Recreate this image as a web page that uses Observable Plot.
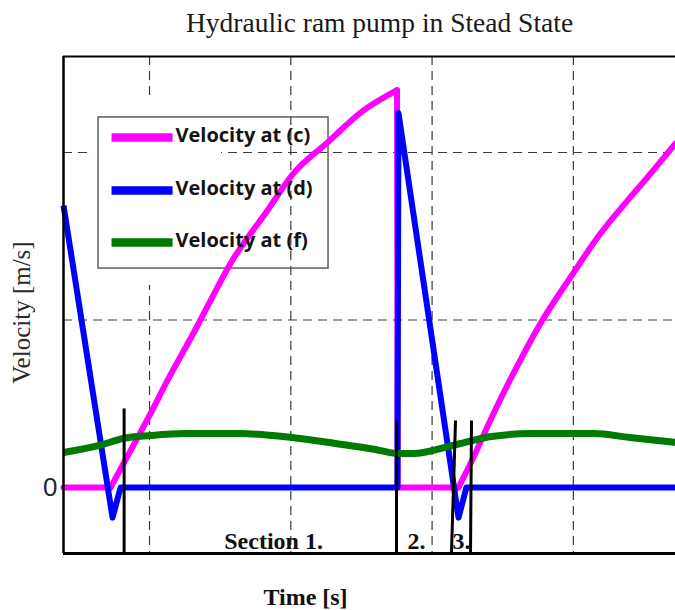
<!DOCTYPE html>
<html>
<head>
<meta charset="utf-8">
<script src="https://cdn.jsdelivr.net/npm/d3@7"></script>
<script src="https://cdn.jsdelivr.net/npm/@observablehq/plot@0.6"></script>
<style>
  html, body { margin: 0; padding: 0; background: #fff; }
  #chart { width: 675px; height: 610px; }
</style>
</head>
<body>
<div id="chart"></div>
<script>
// ---- text ----
const title = "Hydraulic ram pump in Stead State";
const xLabel = "Time [s]";
const yLabel = "Velocity [m/s]";
const seriesNames = ["Velocity at (c)", "Velocity at (d)", "Velocity at (f)"];
const seriesColors = ["#ff00ff", "#0000ff", "#007a00"];

// ---- series values (time in grid units, velocity in grid units) ----
const timeC = [0.391, 0.724, 0.816, 1.000, 1.127, 1.340, 1.432, 1.573, 1.835, 2.019, 2.260, 2.515, 2.752, 2.756, 3.187, 3.272, 3.435, 3.576, 3.767, 3.979, 4.192, 4.383, 4.524, 4.723];
const velC  = [0, 0, 0.143, 0.430, 0.639, 0.967, 1.116, 1.337, 1.654, 1.875, 2.060, 2.251, 2.372, 0, 0, 0.143, 0.442, 0.681, 0.979, 1.254, 1.516, 1.713, 1.851, 2.054];

const timeD = [0.391, 0.738, 0.795, 2.755, 2.762, 3.187, 3.243, 4.723];
const velD  = [1.684, -0.180, 0, 0, 2.235, -0.180, 0, 0];

const timeF = [0.391, 0.646, 0.816, 1.007, 1.255, 1.644, 2.005, 2.316, 2.599, 2.755, 2.868, 3.144, 3.420, 3.703, 4.142, 4.397, 4.723];
const velF  = [0.209, 0.251, 0.293, 0.310, 0.322, 0.322, 0.299, 0.263, 0.227, 0.203, 0.203, 0.251, 0.304, 0.322, 0.322, 0.299, 0.269];

// ---- section markers ----
const sectionTopTimes = [0.820, 2.748, 3.166, 3.279];
const sectionBottomTimes = [0.820, 2.748, 3.137, 3.272];
const sectionTopVel = [0.472, 0.400, 0.400, 0.400];
const sectionLabels = ["Section 1.", "2.", "3."];
const sectionLabelTimes = [1.878, 2.890, 3.208];

// ---- axes ----
const xGrid = [1, 2, 3, 4];
const yGrid = [1, 2];
const yTicks = [0];
const xDomain = [0.391, 4.723];
const yDomain = [-0.394, 2.573];

// ---- build tables ----
// split a series into runs of flat / rising / falling intervals so each run
// can be drawn with a smooth curve while keeping the sharp corners between runs
function splitRuns(name, ts, vs) {
  const out = [];
  let seg = 0, prevSign = null;
  for (let j = 0; j < ts.length - 1; j++) {
    const dv = vs[j + 1] - vs[j];
    const sign = Math.abs(dv) < 1e-9 ? 0 : Math.sign(dv);
    if (sign !== prevSign) { seg++; out.push({series: name, seg: name + seg, t: ts[j], v: vs[j]}); }
    out.push({series: name, seg: name + seg, t: ts[j + 1], v: vs[j + 1]});
    prevSign = sign;
  }
  return out;
}
const rowsC = splitRuns(seriesNames[0], timeC, velC);
const rowsD = timeD.map((t, j) => ({series: seriesNames[1], t, v: velD[j]}));
const rowsF = timeF.map((t, j) => ({series: seriesNames[2], t, v: velF[j]}));

const sections = sectionTopTimes.map((t, i) => ({
  xt: t, xb: sectionBottomTimes[i], yt: sectionTopVel[i]
}));
const sectionText = sectionLabels.map((s, i) => ({label: s, t: sectionLabelTimes[i]}));

// legend placement (in scale units)
const legendRowsV = [2.090, 1.773, 1.463];
const legend = seriesNames.map((name, i) => ({name, v: legendRowsV[i]}));

const serif = "'Liberation Serif', 'Times New Roman', serif";

const chart = Plot.plot({
  width: 675,
  height: 610,
  marginLeft: 63,
  marginRight: 0,
  marginTop: 56,
  marginBottom: 57,
  style: {background: "#fff", overflow: "visible"},
  x: {domain: xDomain, axis: null},
  y: {domain: yDomain, axis: null},
  color: {domain: seriesNames, range: seriesColors},
  marks: [
    // dashed grid
    Plot.ruleX(xGrid, {x: d => d, stroke: "#3a3a3a", strokeWidth: 1.2, strokeDasharray: "9,6"}),
    Plot.ruleY(yGrid, {y: d => d, stroke: "#3a3a3a", strokeWidth: 1.2, strokeDasharray: "9,6"}),
    // legend background patch and border
    Plot.rect([0], {x1: () => 0.604, x2: () => 1.510, y1: () => 1.206, y2: () => 2.310, fill: "#fff"}),
    Plot.rect([0], {x1: () => 0.639, x2: () => 2.267, y1: () => 1.307, y2: () => 2.209, fill: "none", stroke: "#5e5e5e", strokeWidth: 1.5}),
    // curves
    Plot.line(rowsC, {x: "t", y: "v", z: "seg", stroke: "series", strokeWidth: 6,
      strokeLinejoin: "round", strokeLinecap: "round", curve: "monotone-x"}),
    Plot.line(rowsD, {x: "t", y: "v", stroke: "series", strokeWidth: 6,
      strokeLinejoin: "round", strokeLinecap: "butt"}),
    Plot.line(rowsF, {x: "t", y: "v", stroke: "series", strokeWidth: 7,
      strokeLinejoin: "round", strokeLinecap: "butt", curve: "monotone-x"}),
    // section markers
    Plot.link(sections, {x1: "xt", y1: "yt", x2: "xb", y2: () => yDomain[0], stroke: "#000", strokeWidth: 3}),
    Plot.text(sectionText, {x: "t", frameAnchor: "bottom", text: "label", dy: -5, lineAnchor: "bottom",
      fontFamily: serif, fontWeight: "bold", fontSize: 24, fill: "#111"}),
    // legend swatches + labels
    Plot.link(legend, {x1: () => 0.731, x2: () => 1.163, y1: "v", y2: "v", stroke: "name", strokeWidth: 8.5}),
    Plot.text(legend, {x: () => 1.184, y: "v", text: "name", textAnchor: "start", dy: -1.5,
      fontFamily: "'Open Sans', sans-serif", fontWeight: "bold", fontSize: 20, fill: "#141414"}),
    // frame (left, top, bottom)
    Plot.ruleY([yDomain[1]], {y: d => d, stroke: "#000", strokeWidth: 2}),
    Plot.ruleY([yDomain[0]], {y: d => d, stroke: "#000", strokeWidth: 3}),
    Plot.ruleX([xDomain[0]], {x: d => d, stroke: "#000", strokeWidth: 2.5}),
    // y tick label
    Plot.text(yTicks, {y: d => d, frameAnchor: "left", text: d => String(d), textAnchor: "end", dx: -6,
      fontFamily: "'Liberation Sans', Arial, sans-serif", fontSize: 26, fill: "#1c2838"}),
    // axis labels + title
    Plot.text([yLabel], {frameAnchor: "left", text: d => d, rotate: -90, textAnchor: "middle", lineAnchor: "bottom", dx: -34, dy: 7.5,
      fontFamily: serif, fontSize: 25, fill: "#2a2a2a"}),
    Plot.text([xLabel], {frameAnchor: "bottom", text: d => d, textAnchor: "middle", lineAnchor: "bottom", dx: -64, dy: 51,
      fontFamily: serif, fontWeight: "bold", fontSize: 24, fill: "#111"}),
    Plot.text([title], {frameAnchor: "top", text: d => d, textAnchor: "middle", lineAnchor: "bottom", dx: 10, dy: -25,
      fontFamily: serif, fontSize: 27.5, fill: "#1a1a1a"})
  ]
});
document.getElementById("chart").appendChild(chart);
</script>
</body>
</html>
